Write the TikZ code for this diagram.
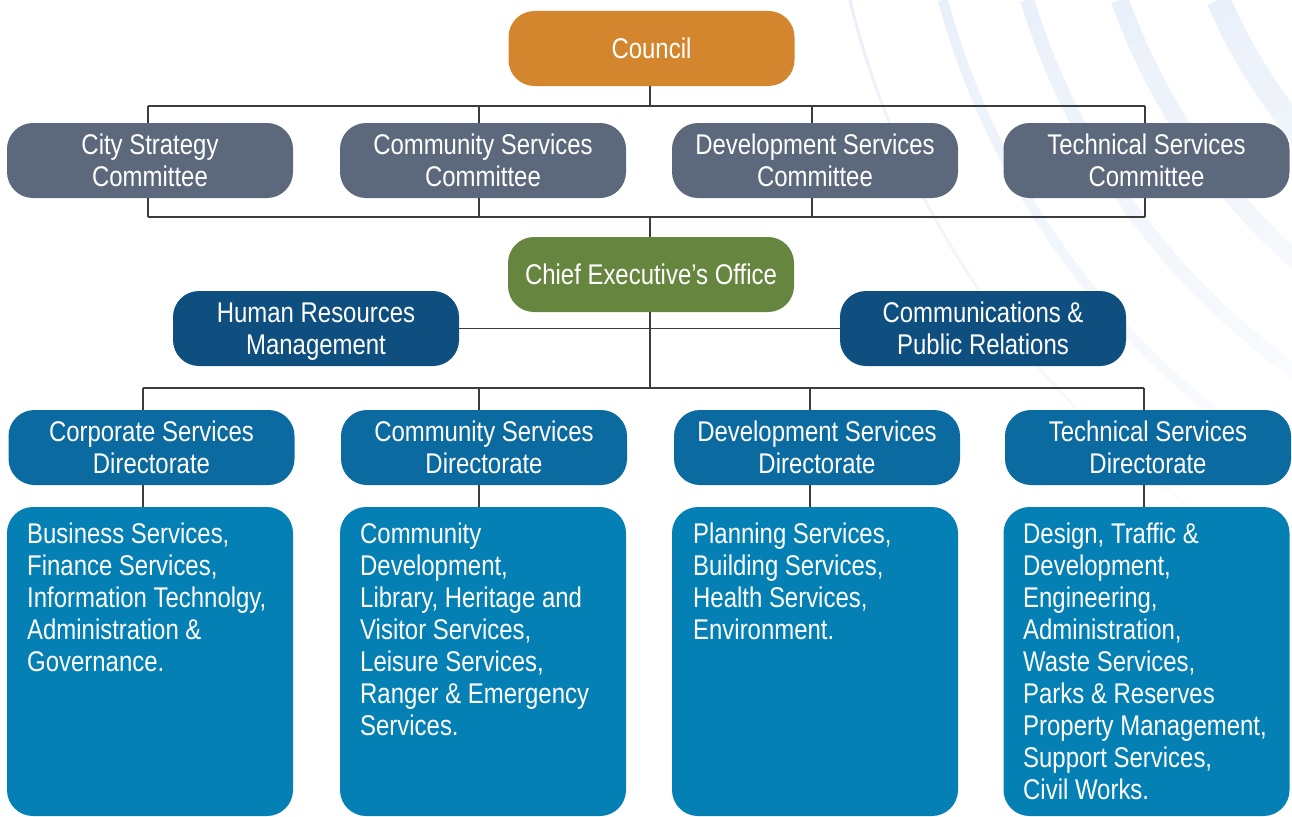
\documentclass[tikz,border=0pt]{standalone}
\usepackage{fontspec}
\setmainfont{Liberation Sans}[FakeStretch=0.84]

\definecolor{councilC}{HTML}{D4862F}
\definecolor{committeeC}{HTML}{5C687B}
\definecolor{ceoC}{HTML}{66863F}
\definecolor{staffC}{HTML}{0F4F80}
\definecolor{dirC}{HTML}{0B6A9F}
\definecolor{unitC}{HTML}{0580B4}
\definecolor{lineC}{HTML}{3C3C3C}
\definecolor{arcC}{HTML}{EAF0FA}

\begin{document}
\begin{tikzpicture}[x=1pt,y=-1pt,
  orgbox/.style={rounded corners=26pt, minimum width=286pt, minimum height=75pt,
    inner sep=0pt, text=white, align=center, font=\fontsize{28.5}{32}\selectfont},
  council/.style={orgbox, fill=councilC},
  committee/.style={orgbox, fill=committeeC},
  ceo/.style={orgbox, fill=ceoC},
  staff/.style={orgbox, fill=staffC},
  directorate/.style={orgbox, fill=dirC},
  unitbox/.style={rounded corners=26pt, minimum width=286pt, minimum height=309pt,
    inner sep=0pt, fill=unitC},
  unittext/.style={anchor=north west, inner sep=0pt, text=white, align=left,
    font=\fontsize{28.5}{32}\selectfont},
  conn/.style={draw=lineC, line width=1.5pt}
]
\useasboundingbox (0,0) rectangle (1292,816);

% faint concentric arcs in the upper right corner, fading downwards
\begin{scope}
  \clip (0,0) rectangle (1292,816);
  \foreach \r/\w in {882/3, 792/10, 711/14, 623/18, 531/24} {
    \pgfmathsetmacro{\a}{180-asin(208/\r)}
    \foreach \k in {0,...,24} {
      \pgfmathsetmacro{\s}{\a-2*\k}
      \pgfmathtruncatemacro{\p}{100-4*\k}
      \draw[arcC!\p!white, line width=\w pt]
        ([shift={(\s:\r)}]1707,-208) arc[start angle=\s, end angle=\s-2.1, radius=\r];
    }
  }
\end{scope}

% boxes
\node[council] (council) at (651.5,48.5) {Council};

\node[committee] (cs1) at (150,160.5)    {City Strategy\\Committee};
\node[committee] (cs2) at (483,160.5)    {Community Services\\Committee};
\node[committee] (cs3) at (815,160.5)    {Development Services\\Committee};
\node[committee] (cs4) at (1146.5,160.5) {Technical Services\\Committee};

\node[ceo] (ceo) at (651,274.5) {Chief Executive’s Office};

\node[staff] (hr)    at (316,328.5) {Human Resources\\\smash{Management}};
\node[staff] (comms) at (983,328.5) {Communications \&\\Public Relations};

\node[directorate] (d1) at (151.5,447.5) {Corporate Services\\Directorate};
\node[directorate] (d2) at (484,447.5)   {Community Services\\Directorate};
\node[directorate] (d3) at (817,447.5)   {Development Services\\Directorate};
\node[directorate] (d4) at (1148,447.5)  {Technical Services\\Directorate};

\node[unitbox] (u1) at (150,661.5)    {};
\node[unitbox] (u2) at (483,661.5)    {};
\node[unitbox] (u3) at (815,661.5)    {};
\node[unitbox] (u4) at (1146.5,661.5) {};

\node[unittext] (t1) at (27,520.6)   {\strut Business Services,\\Finance Services,\\Information Technolgy,\\Administration \&\\Governance.};
\node[unittext] (t2) at (360,520.6)  {\strut Community\\Development,\\Library, Heritage and\\Visitor Services,\\Leisure Services,\\Ranger \& Emergency\\Services.};
\node[unittext] (t3) at (693,520.6)  {\strut Planning Services,\\Building Services,\\Health Services,\\Environment.};
\node[unittext] (t4) at (1023,520.6) {\strut Design, Traffic \&\\Development,\\Engineering,\\Administration,\\Waste Services,\\Parks \& Reserves\\Property Management,\\Support Services,\\Civil Works.};

% bus from council to the committees
\coordinate (busA) at (650,106);
\coordinate (a1) at (148,106);
\coordinate (a2) at (479,106);
\coordinate (a3) at (812,106);
\coordinate (a4) at (1145,106);
\draw[conn] (busA |- council.south) -- (busA);
\draw[conn] (a1) -- (a4);
\draw[conn] (a1) -- (a1 |- cs1.north);
\draw[conn] (a2) -- (a2 |- cs2.north);
\draw[conn] (a3) -- (a3 |- cs3.north);
\draw[conn] (a4) -- (a4 |- cs4.north);

% bus from the committees to the chief executive
\coordinate (busB) at (650,217);
\coordinate (b1) at (148,217);
\coordinate (b2) at (479,217);
\coordinate (b3) at (812,217);
\coordinate (b4) at (1145,217);
\draw[conn] (b1) -- (b4);
\draw[conn] (b1) -- (b1 |- cs1.south);
\draw[conn] (b2) -- (b2 |- cs2.south);
\draw[conn] (b3) -- (b3 |- cs3.south);
\draw[conn] (b4) -- (b4 |- cs4.south);
\draw[conn] (busB) -- (busB |- ceo.north);

% support offices
\draw[conn] (hr.east) -- (comms.west);

% bus from the chief executive to the directorates
\coordinate (busC) at (650,388);
\coordinate (c1) at (143,388);
\coordinate (c2) at (479,388);
\coordinate (c3) at (810,388);
\coordinate (c4) at (1144,388);
\draw[conn] (busC |- ceo.south) -- (busC);
\draw[conn] (c1) -- (c4);
\draw[conn] (c1) -- (c1 |- d1.north);
\draw[conn] (c2) -- (c2 |- d2.north);
\draw[conn] (c3) -- (c3 |- d3.north);
\draw[conn] (c4) -- (c4 |- d4.north);

% directorates to their units
\draw[conn] (c1 |- d1.south) -- (c1 |- u1.north);
\draw[conn] (c2 |- d2.south) -- (c2 |- u2.north);
\draw[conn] (c3 |- d3.south) -- (c3 |- u3.north);
\draw[conn] (c4 |- d4.south) -- (c4 |- u4.north);
\end{tikzpicture}
\end{document}
